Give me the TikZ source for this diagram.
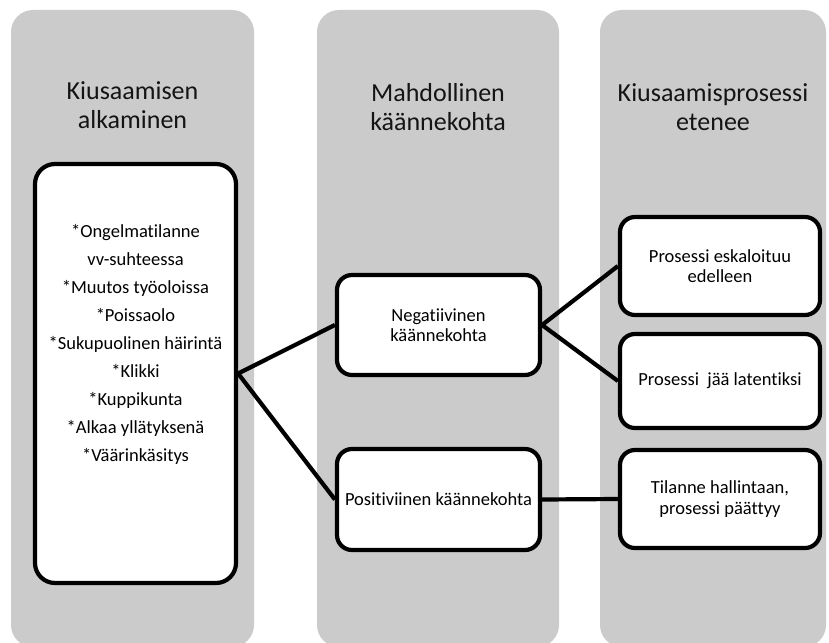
\documentclass[tikz,border=0pt]{standalone}
\usepackage{fontspec}
\setmainfont{Carlito}[Ligatures=NoCommon]
\definecolor{colfill}{RGB}{203,203,203}
\definecolor{textdark}{RGB}{20,20,20}
\begin{document}
\begin{tikzpicture}[x=1pt,y=-1pt,
  column/.style={fill=colfill,draw=none,rounded corners=22pt},
  stagebox/.style={draw=black,line width=4.2pt,fill=white,rounded corners=15pt,
    inner sep=0pt,align=center,font=\fontsize{18.5}{20.5}\selectfont},
  coltitle/.style={align=center,font=\fontsize{26}{29}\selectfont,inner sep=0pt,text=textdark},
  link/.style={draw=black,line width=4.2pt}]
\useasboundingbox (0,0) rectangle (829,642);
\clip (0,0) rectangle (829,642);

% three background columns
\fill[column] (11,10) rectangle (254,647);
\fill[column] (317,10) rectangle (559,647);
\fill[column] (600,10) rectangle (826,647);

% column titles
\node[coltitle] (t1) at (132.5,105.5) {Kiusaamisen\\alkaminen};
\node[coltitle] (t2) at (438,107) {Mahdollinen\\käännekohta};
\node[coltitle] (t3) at (713,107) {Kiusaamisprosessi\\etenee};

% starting situation
\node[stagebox,rounded corners=20pt,minimum width=201pt,minimum height=419pt] (start) at (135.5,373.5) {};
\node[align=center,inner sep=0pt,font=\fontsize{18.5}{28}\selectfont] (startlist) at (135.5,344)
  {*Ongelmatilanne\\vv-suhteessa\\*Muutos työoloissa\\*Poissaolo\\*Sukupuolinen häirintä\\*Klikki\\*Kuppikunta\\*Alkaa yllätyksenä\\*Väärinkäsitys};

% turning points
\node[stagebox,minimum width=203pt,minimum height=100pt] (neg) at (438.5,325) {Negatiivinen\\käännekohta};
\node[stagebox,minimum width=203pt,minimum height=101pt] (pos) at (438.5,499.5) {Positiviinen käännekohta};

% outcomes
\node[stagebox,minimum width=200pt,minimum height=98pt] (esc) at (720,266) {Prosessi eskaloituu\\edelleen};
\node[stagebox,minimum width=200pt,minimum height=94pt] (lat) at (720,381) {Prosessi\ \ jää latentiksi};
\node[stagebox,minimum width=200pt,minimum height=98pt] (end) at (720,499) {Tilanne hallintaan,\\prosessi päättyy};

% connectors
\draw[link] (start.east) -- (neg.west);
\draw[link] (start.east) -- (pos.west);
\draw[link] (neg.east) -- (esc.west);
\draw[link] (neg.east) -- (lat.west);
\draw[link] (pos.east) -- (end.west);
\end{tikzpicture}
\end{document}
